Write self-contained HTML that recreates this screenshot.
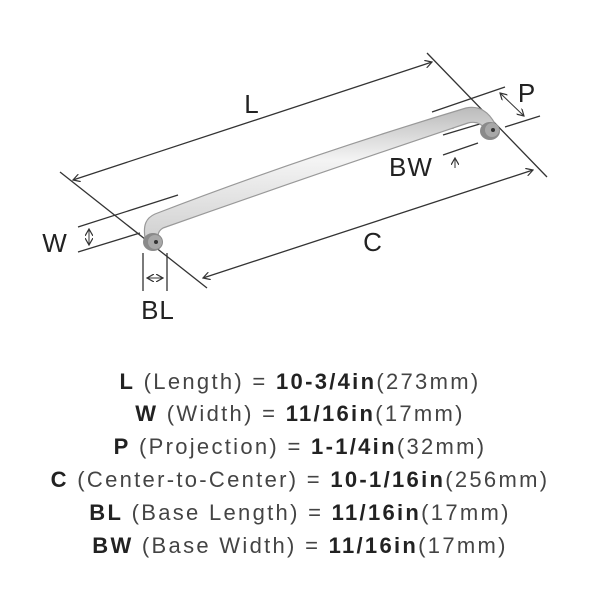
<!DOCTYPE html>
<html><head><style>
body{margin:0;background:#fff;width:600px;height:605px;overflow:hidden;font-family:"Liberation Sans",sans-serif}
svg{position:absolute;left:0;top:0}
.t{position:absolute;left:0;width:600px;text-align:center;font-size:22px;color:#444;letter-spacing:2.3px;white-space:nowrap}
.t b{color:#222}
</style></head><body>
<svg width="600" height="605" viewBox="0 0 600 605">
<defs>
<linearGradient id="g" x1="0" y1="0" x2="0" y2="1"><stop offset="0" stop-color="#bbb"/><stop offset="0.4" stop-color="#f4f4f4"/><stop offset="1" stop-color="#d0d0d0"/></linearGradient>
<marker id="a" markerWidth="8" markerHeight="8" refX="7" refY="4" orient="auto-start-reverse" markerUnits="userSpaceOnUse"><path d="M0,0 L7,4 L0,8" fill="none" stroke="#333" stroke-width="1.2"/></marker>
</defs>
<g stroke="#333" stroke-width="1.3" fill="none">
<line x1="60" y1="172" x2="207" y2="288"/>
<line x1="427" y1="53" x2="547" y2="177"/>
<line x1="73" y1="180" x2="432" y2="62" marker-start="url(#a)" marker-end="url(#a)"/>
<line x1="203" y1="278" x2="533" y2="170" marker-start="url(#a)" marker-end="url(#a)"/>
<line x1="78" y1="227" x2="178" y2="195"/>
<line x1="78" y1="252" x2="140" y2="233"/>
<line x1="89" y1="229" x2="89" y2="245" marker-start="url(#a)" marker-end="url(#a)" stroke-width="1"/>
<line x1="143" y1="253" x2="143" y2="291"/>
<line x1="167" y1="253" x2="167" y2="291"/>
<line x1="147" y1="278" x2="163" y2="278" marker-start="url(#a)" marker-end="url(#a)" stroke-width="1"/>
<line x1="432" y1="112" x2="505" y2="87"/>
<line x1="505" y1="127" x2="540" y2="116"/>
<line x1="500" y1="93" x2="524" y2="116" marker-start="url(#a)" marker-end="url(#a)" stroke-width="1"/>
<line x1="443" y1="135" x2="483" y2="123"/>
<line x1="443" y1="155" x2="478" y2="143"/>
<line x1="455" y1="168" x2="455" y2="158" marker-end="url(#a)" stroke-width="1"/>
<line x1="453" y1="117" x2="453" y2="128" marker-end="url(#a)" stroke-width="1"/>
</g>
<path d="M145,238 C143,225 146,218 155,214 Q300,158 466,108 C479,105 489,112 495,124 L486,131 C482,123 476,121 468,123 Q310,176 163,228 C158,231 157,235 159,240 Z" fill="url(#g)" stroke="#999" stroke-width="1.2"/>
<ellipse cx="153" cy="242" rx="10" ry="9" fill="#8a8a8a"/>
<ellipse cx="155" cy="242" rx="7" ry="7" fill="#a8a8a8"/>
<circle cx="156" cy="242" r="2" fill="#333"/>
<ellipse cx="490" cy="131" rx="10" ry="9" fill="#8a8a8a"/>
<ellipse cx="492" cy="130" rx="7" ry="7" fill="#a8a8a8"/>
<circle cx="493" cy="130" r="2" fill="#333"/>
<g font-family="Liberation Sans, sans-serif" font-size="26" fill="#222" text-anchor="middle" letter-spacing="1">
<text x="252" y="113">L</text>
<text x="373" y="251">C</text>
<text x="55" y="252">W</text>
<text x="158" y="319">BL</text>
<text x="411" y="176">BW</text>
<text x="527" y="102">P</text>
</g>
</svg>
<div class="t" style="top:369px"><b>L</b> (Length) = <b>10-3/4in</b>(273mm)</div>
<div class="t" style="top:401px"><b>W</b> (Width) = <b>11/16in</b>(17mm)</div>
<div class="t" style="top:434px"><b>P</b> (Projection) = <b>1-1/4in</b>(32mm)</div>
<div class="t" style="top:467px"><b>C</b> (Center-to-Center) = <b>10-1/16in</b>(256mm)</div>
<div class="t" style="top:500px"><b>BL</b> (Base Length) = <b>11/16in</b>(17mm)</div>
<div class="t" style="top:533px"><b>BW</b> (Base Width) = <b>11/16in</b>(17mm)</div>
</body></html>
